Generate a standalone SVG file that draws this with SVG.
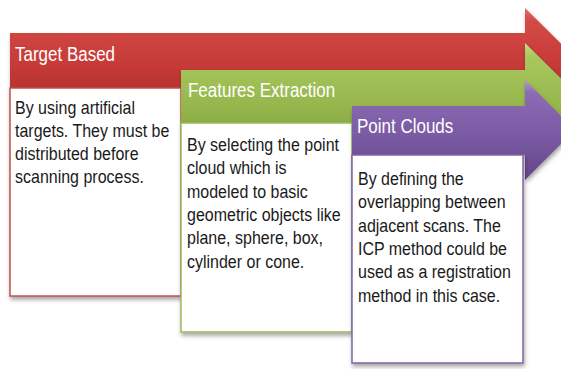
<svg xmlns="http://www.w3.org/2000/svg" width="561" height="369" viewBox="0 0 561 369">
<defs>
<linearGradient id="gRed" x1="0" y1="0" x2="0" y2="1">
<stop offset="0" stop-color="#e0706c"/><stop offset="0.12" stop-color="#d44a46"/><stop offset="0.55" stop-color="#c53a37"/><stop offset="1" stop-color="#a82e2c"/>
</linearGradient>
<linearGradient id="gGreen" x1="0" y1="0" x2="0" y2="1">
<stop offset="0" stop-color="#c6de8a"/><stop offset="0.12" stop-color="#a8c85e"/><stop offset="0.55" stop-color="#98b84f"/><stop offset="1" stop-color="#7f9e3c"/>
</linearGradient>
<linearGradient id="gPurple" x1="0" y1="0" x2="0" y2="1">
<stop offset="0" stop-color="#b49ad6"/><stop offset="0.12" stop-color="#8c6cb4"/><stop offset="0.55" stop-color="#7a5aa3"/><stop offset="1" stop-color="#62468a"/>
</linearGradient>
<filter id="sh" x="-10%" y="-10%" width="130%" height="130%">
<feDropShadow dx="1" dy="3" stdDeviation="2" flood-color="#000" flood-opacity="0.35"/>
</filter>
</defs>
<style>
.hd{font-family:"Liberation Sans",Arial,sans-serif;font-size:17px;fill:#ffffff}
.bd{font-family:"Liberation Sans",Arial,sans-serif;font-size:16px;fill:#1a1a1a}
.box{fill:#ffffff;stroke-width:1.5;filter:url(#sh)}
.arr{filter:url(#sh)}
</style>
<rect width="561" height="369" fill="#ffffff"/>
<g id="target-based">
<path class="arr" d="M10,33 H525 V8 L578,60.5 L525,113 V88 H10 Z" fill="url(#gRed)"/>
<rect class="box" x="10" y="88" width="171" height="208" stroke="#c0504d"/>
<text class="hd" transform="translate(15,61) scale(1,1.15)">Target Based</text>
<text class="bd" transform="translate(15,114) scale(1,1.18)"><tspan x="0" y="0">By using artificial</tspan><tspan x="0" dy="19.6">targets. They must be</tspan><tspan x="0" dy="19.6">distributed before</tspan><tspan x="0" dy="19.6">scanning process.</tspan></text>
</g>
<g id="features-extraction">
<path class="arr" d="M181,70 H525 V43 L579,96.5 L525,150 V123 H181 Z" fill="url(#gGreen)"/>
<rect class="box" x="181" y="123" width="171" height="209" stroke="#9bbb59"/>
<text class="hd" transform="translate(188,97) scale(1,1.15)">Features Extraction</text>
<text class="bd" transform="translate(187,151) scale(1,1.18)"><tspan x="0" y="0">By selecting the point</tspan><tspan x="0" dy="19.8">cloud which is</tspan><tspan x="0" dy="19.8">modeled to basic</tspan><tspan x="0" dy="19.8">geometric objects like</tspan><tspan x="0" dy="19.8">plane, sphere, box,</tspan><tspan x="0" dy="19.8">cylinder or cone.</tspan></text>
</g>
<g id="point-clouds">
<path class="arr" d="M352,106 H525 V80 L575,130 L525,180 V155 H352 Z" fill="url(#gPurple)"/>
<rect class="box" x="352" y="155" width="171" height="208" stroke="#8064a2"/>
<text class="hd" transform="translate(357,133) scale(1,1.15)">Point Clouds</text>
<text class="bd" transform="translate(358,185) scale(1,1.18)"><tspan x="0" y="0">By defining the</tspan><tspan x="0" dy="19.8">overlapping between</tspan><tspan x="0" dy="19.8">adjacent scans. The</tspan><tspan x="0" dy="19.8">ICP method could be</tspan><tspan x="0" dy="19.8">used as a registration</tspan><tspan x="0" dy="19.8">method in this case.</tspan></text>
</g>
<g id="connectors"></g>
</svg>
